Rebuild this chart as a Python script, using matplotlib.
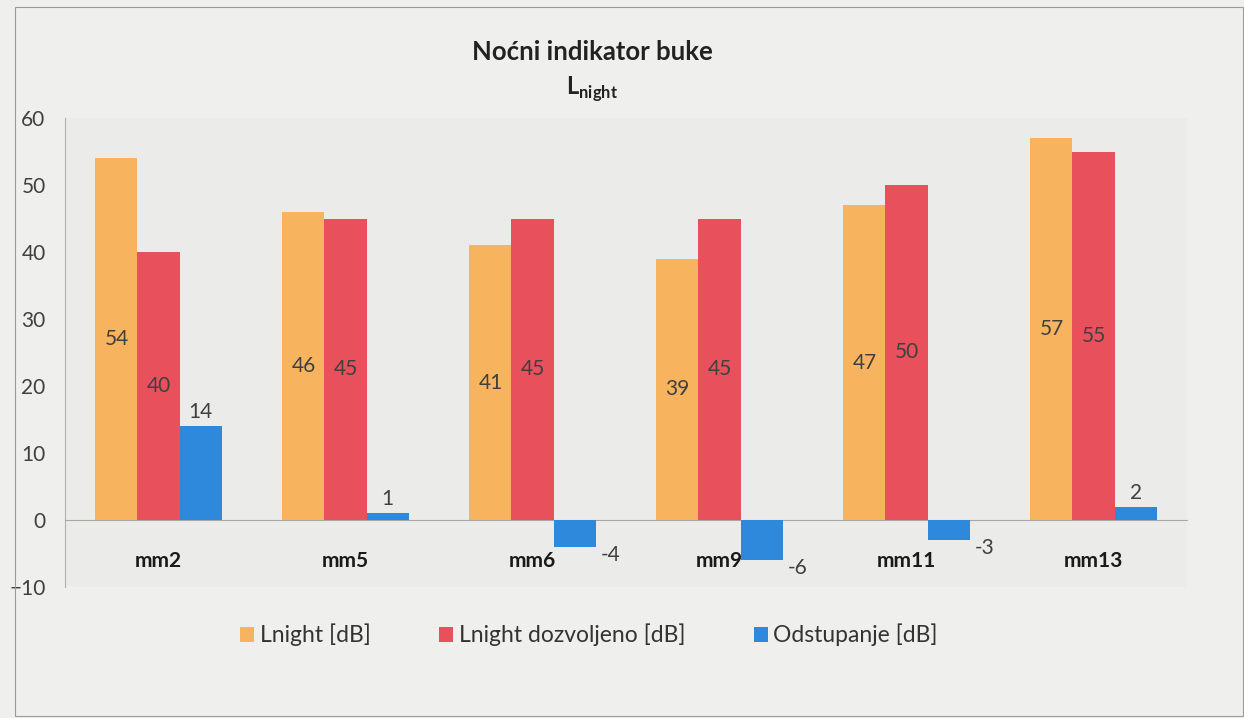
import matplotlib
matplotlib.use("Agg")
from matplotlib import pyplot as plt
from matplotlib.patches import Rectangle
from matplotlib.transforms import offset_copy
import numpy as np

categories = ["mm2", "mm5", "mm6", "mm9", "mm11", "mm13"]
lnight = [54, 46, 41, 39, 47, 57]
lnight_allowed = [40, 45, 45, 45, 50, 55]
deviation = [14, 1, -4, -6, -3, 2]
series_names = ["Lnight [dB]", "Lnight dozvoljeno [dB]", "Odstupanje [dB]"]

colors = ["#F8B35E", "#E8505C", "#2E88DB"]
txt = "#404040"

plt.rcParams["font.family"] = ["Lato", "DejaVu Sans"]
plt.rcParams["mathtext.fontset"] = "custom"
plt.rcParams["mathtext.bf"] = "Lato:bold"
plt.rcParams["mathtext.rm"] = "Lato"

fig = plt.figure(figsize=(12.44, 7.18), dpi=100, facecolor="#efefed")
ax = fig.add_axes([65/1244, 1-587/718, (1187-65)/1244, (587-118)/718])
ax.set_facecolor("#ebebe9")

x = np.arange(len(categories))
w = 0.225
series = [lnight, lnight_allowed, deviation]
bars = []
for k, (vals, c, name) in enumerate(zip(series, colors, series_names)):
    b = ax.bar(x + (k-1)*w, vals, w, color=c, label=name, zorder=3)
    bars.append(b)

fs = 15
# labels in the middle of first two series
for b, vals in zip(bars[:2], series[:2]):
    for r, v in zip(b, vals):
        ax.text(r.get_x() + r.get_width()/2, v/2, str(v), ha="center",
                va="center", fontsize=fs, color=txt, zorder=4)

# deviation labels outside
for r, v in zip(bars[2], deviation):
    if v >= 0:
        tr = offset_copy(ax.transData, fig=fig, x=0, y=4, units="dots")
        ax.text(r.get_x() + r.get_width()/2, v, str(v), ha="center",
                va="bottom", fontsize=fs, color=txt, transform=tr, zorder=4)
    else:
        tr = offset_copy(ax.transData, fig=fig, x=15, y=-8, units="dots")
        ax.text(r.get_x() + r.get_width(), v, str(v), ha="center",
                va="center", fontsize=fs, color=txt, transform=tr, zorder=4)

ax.spines["bottom"].set_position(("data", 0))
ax.set_ylim(-10, 60)
ax.set_xlim(-0.5, len(categories)-0.5)
ax.set_yticks(range(-10, 61, 10))
ax.tick_params(axis="y", length=0, pad=14, labelsize=fs, labelcolor=txt)
ax.set_xticks(x)
ax.set_xticklabels(categories, fontweight="bold", fontsize=fs)
ax.tick_params(axis="x", length=0, pad=22, labelcolor="#1a1a1a")
for s in ["top", "right"]:
    ax.spines[s].set_visible(False)
ax.spines["bottom"].set_color("#a8a8a8")
ax.spines["left"].set_color("#b0b0b0")
ax.spines["left"].set_linewidth(0.8)

fig.text(592/1244, 1-52/718, "Noćni indikator buke", ha="center",
         va="center", fontsize=18.5, fontweight="bold", color="#222222")
fig.text(592/1244, 1-89/718, r"$\mathbf{L}_{\mathbf{night}}$", ha="center",
         va="center", fontsize=17, color="#222222")

fig.legend(loc="center", bbox_to_anchor=(589/1244, 1-635/718), ncol=3,
           frameon=False, fontsize=16.5, handlelength=0.6, handleheight=0.6,
           handletextpad=0.25, columnspacing=3.0, labelcolor="#333333")

fig.patches.append(Rectangle((15/1244, 2/718), 1 - 16/1244, 1 - 9/718,
                             transform=fig.transFigure, fill=False,
                             edgecolor="#9a9a9a", linewidth=0.8))

fig.savefig("out.png", dpi=100, facecolor=fig.get_facecolor())
